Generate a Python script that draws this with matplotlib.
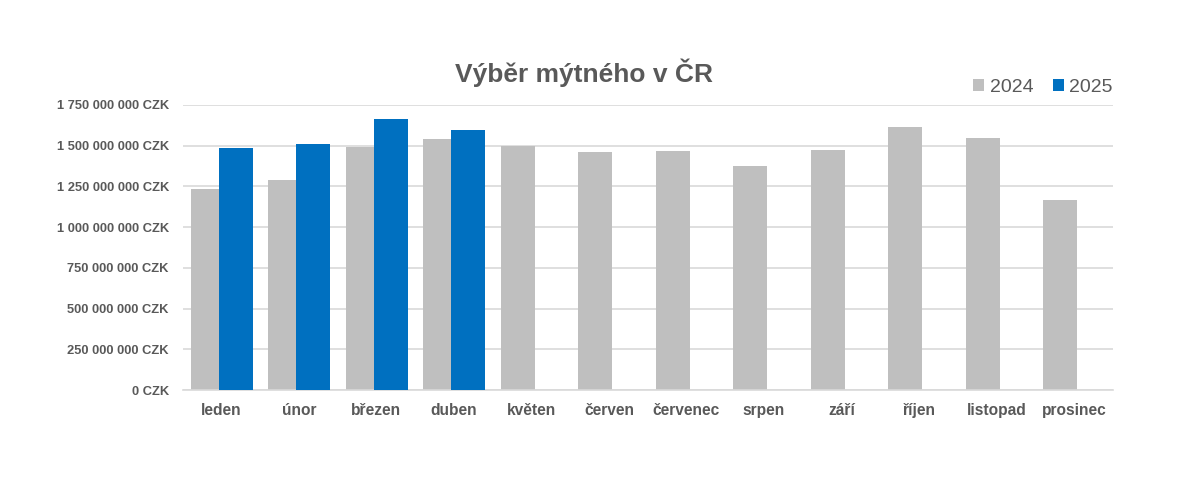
import numpy as np
import matplotlib.pyplot as plt
from matplotlib.ticker import FuncFormatter

# DATA
mesice = ["leden", "únor", "březen", "duben", "květen", "červen",
          "červenec", "srpen", "září", "říjen", "listopad", "prosinec"]
vyber_2024 = [1232e6, 1289e6, 1494e6, 1541e6, 1500e6, 1461e6,
              1469e6, 1375e6, 1473e6, 1617e6, 1547e6, 1166e6]
vyber_2025 = [1486e6, 1508e6, 1666e6, 1598e6]

plt.rcParams['font.family'] = ['Liberation Sans', 'DejaVu Sans']
text_col = "#595959"

fig = plt.figure(figsize=(12, 4.86), dpi=100)
ax = fig.add_axes([0.1522, 0.1975, 0.7750, 0.5865])

x = np.arange(len(mesice))
w = 0.435
ax.bar(x - 0.175, vyber_2024, width=w, color="#BFBFBF", label="2024", zorder=2)
ax.bar(x[:len(vyber_2025)] + 0.185, vyber_2025, width=w, color="#0070C0",
       label="2025", zorder=3)

ax.set_xlim(-0.5, len(mesice) - 0.5)
ax.set_ylim(0, 1750e6)
ax.set_yticks(np.arange(0, 1750e6 + 1, 250e6))

def czk(v, pos):
    return "{:,.0f} CZK".format(v).replace(",", " ")

ax.yaxis.set_major_formatter(FuncFormatter(czk))
ax.grid(axis="y", color="#D9D9D9", linewidth=1.2, zorder=0)
ax.set_axisbelow(True)
for s in ["top", "right", "left"]:
    ax.spines[s].set_visible(False)
ax.spines["bottom"].set_color("#D9D9D9")
ax.spines["bottom"].set_linewidth(1.2)

ax.set_xticks(x)
ax.set_xticklabels(mesice, fontsize=11.2, fontweight="bold", color=text_col)
ax.tick_params(axis="x", length=0, pad=9)
ax.tick_params(axis="y", length=0, pad=10, labelsize=9.3, labelcolor=text_col)
for t in ax.get_yticklabels():
    t.set_fontweight("bold")

fig.text(0.487, 0.85, "Výběr mýtného v ČR", ha="center", va="center",
         fontsize=19, fontweight="bold", color=text_col)

leg = fig.legend(loc="center right", bbox_to_anchor=(0.942, 0.82), ncol=2,
                 frameon=False, fontsize=14, handlelength=0.55, handleheight=0.55,
                 handletextpad=0.3, columnspacing=1.0)
for t in leg.get_texts():
    t.set_color(text_col)

fig.savefig("out.png", dpi=100)
